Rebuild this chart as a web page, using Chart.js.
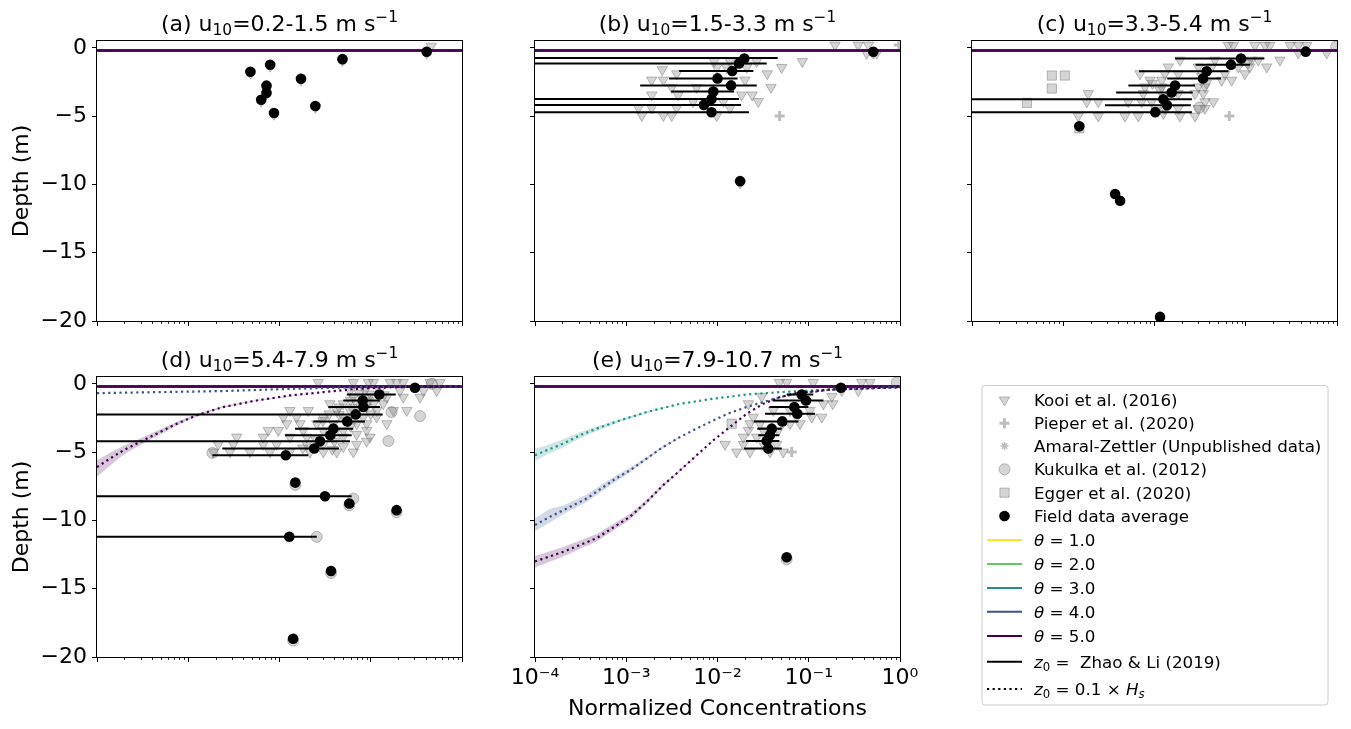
<!DOCTYPE html>
<html>
<head>
<meta charset="utf-8">
<script src="https://cdn.jsdelivr.net/npm/chart.js@4.4.1/dist/chart.umd.min.js"></script>
<style>
  html, body { margin: 0; padding: 0; background: #fff; }
  #fig { position: relative; width: 1351px; height: 729px; overflow: hidden; }
  #fig canvas { position: absolute; }
</style>
</head>
<body>
<div id="fig"></div>
<script>
// ---------------- values ----------------
const xTickValues = [1e-4, 1e-3, 1e-2, 1e-1, 1];
const xTickLabels = ['10⁻⁴', '10⁻³', '10⁻²', '10⁻¹', '10⁰'];
const yTickValues = [0, -5, -10, -15, -20];
const yTickLabels = ['0', '−5', '−10', '−15', '−20'];
const panelLetters = ['a', 'b', 'c', 'd', 'e'];
const windRanges = ['0.2-1.5', '1.5-3.3', '3.3-5.4', '5.4-7.9', '7.9-10.7'];
const thetaValues = ['1.0', '2.0', '3.0', '4.0', '5.0'];
const thetaColors = ['#fde725', '#5ec962', '#21918c', '#3b528b', '#440154'];
const thetaBands = ['rgba(253,231,37,0.22)', 'rgba(94,201,98,0.22)', 'rgba(33,145,140,0.22)', 'rgba(59,82,139,0.22)', 'rgba(68,1,84,0.22)'];

// z0 = Zhao & Li (2019): every theta collapses onto the surface
const surfaceProfile = [[1e-4, -0.2], [1, -0.2]];

// (a)  [concentration, depth]
const fieldA = [[0.0048, -1.75], [0.0079, -1.24], [0.0072, -2.77], [0.0072, -3.3], [0.0063, -3.8],
  [0.0087, -4.77], [0.0172, -2.26], [0.0247, -4.26], [0.049, -0.83], [0.41, -0.29]];
const errA = [];
const kooiA = [[0.0048, -1.85], [0.0079, -1.34], [0.0072, -2.87], [0.0072, -3.4], [0.0063, -3.9],
  [0.0087, -4.87], [0.0172, -2.36], [0.0247, -4.36], [0.049, -0.93], [0.41, -0.39], [0.46, 0.12]];

// (b)
const fieldB = [[0.0197, -0.78], [0.0172, -1.14], [0.0145, -1.7], [0.0100, -2.24], [0.0141, -2.75],
  [0.0090, -3.2], [0.0086, -3.74], [0.0071, -4.18], [0.0086, -4.72], [0.51, -0.29], [0.0177, -9.76]];
// [depth, low, high]
const errB = [[-0.74, 1e-6, 0.0457], [-1.14, 1e-6, 0.0346], [-1.7, 0.0038, 0.0247], [-2.24, 0.00294, 0.0166],
  [-2.75, 0.00142, 0.0269], [-3.2, 0.0031, 0.0152], [-3.74, 1e-6, 0.0172], [-4.18, 1e-6, 0.0181], [-4.72, 1e-6, 0.0221]];
const kooiB = [[0.0092, -1.0], [0.0137, -1.0], [0.0269, -1.0], [0.085, -1.0],
  [0.0098, -1.44], [0.0126, -1.44], [0.0209, -1.44], [0.0505, -1.44], [0.00248, -1.6],
  [0.00357, -1.9], [0.0351, -1.9], [0.0019, -2.36], [0.00255, -2.36], [0.02, -2.36],
  [0.00315, -2.9], [0.0059, -2.9], [0.0386, -2.9], [0.0019, -3.45], [0.0037, -3.45], [0.0184, -3.45], [0.024, -3.45],
  [0.0054, -3.93], [0.0116, -3.93], [0.028, -3.93], [0.00136, -4.4], [0.0019, -4.4], [0.00357, -4.4], [0.0137, -4.4],
  [0.00148, -4.96], [0.00255, -4.96], [0.00315, -4.96], [0.0098, -4.96],
  [0.194, 0.2], [0.349, 0.2], [0.45, 0.2], [0.43, -0.4], [0.556, -0.4], [0.0177, -9.9], [0.51, -0.4]];
const pieperB = [[0.048, -5.0], [0.97, 0.2]];

// (c)
const fieldC = [[0.0887, -0.79], [0.0689, -1.23], [0.0373, -1.72], [0.034, -2.25], [0.0168, -2.76],
  [0.0154, -3.27], [0.0125, -3.76], [0.0137, -4.2], [0.0102, -4.71], [0.454, -0.28], [0.0015, -5.75],
  [0.0037, -10.7], [0.0042, -11.2], [0.0115, -19.7]];
const errC = [[-0.79, 0.0168, 0.16], [-1.23, 0.0282, 0.111], [-1.72, 0.00676, 0.0646], [-2.25, 0.0138, 0.0536],
  [-2.76, 0.00517, 0.0278], [-3.27, 0.0038, 0.0262], [-3.76, 1e-6, 0.0257], [-4.2, 0.00287, 0.025], [-4.71, 1e-6, 0.0257]];
const kooiC = [[0.0644, 0.18], [0.0731, 0.18], [0.126, 0.18], [0.163, 0.18], [0.184, 0.18], [0.306, 0.18], [0.377, 0.18], [0.466, 0.18],
  [0.771, -0.38], [0.377, -0.38],
  [0.019, -0.9], [0.046, -0.9], [0.116, -0.9], [0.137, -0.9], [0.237, -0.9],
  [0.01416, -1.4], [0.0302, -1.4], [0.0424, -1.4], [0.0828, -1.4], [0.111, -1.4], [0.17, -1.4],
  [0.00693, -1.9], [0.013, -1.9], [0.0182, -1.9], [0.0593, -1.9], [0.098, -1.9],
  [0.00893, -2.37], [0.012, -2.37], [0.0545, -2.37], [0.0701, -2.37],
  [0.00787, -2.86], [0.012, -2.86], [0.0302, -2.86], [0.0357, -2.86],
  [0.00188, -3.35], [0.00754, -3.35], [0.0182, -3.35], [0.0278, -3.35], [0.0343, -3.35],
  [0.00181, -3.95], [0.00242, -3.95], [0.00516, -3.95], [0.00724, -3.95], [0.00931, -3.95], [0.0357, -3.95], [0.0441, -3.95],
  [0.013, -4.44], [0.0182, -4.44], [0.0302, -4.44], [0.0357, -4.44],
  [0.00146, -5.0], [0.00242, -5.0], [0.00475, -5.0], [0.00664, -5.0], [0.019, -5.0], [0.0278, -5.0],
  [0.0095, -2.6], [0.0115, -3.1], [0.0105, -4.6], [0.0125, -4.8], [0.033, -2.1], [0.037, -2.6], [0.092, -0.95], [0.105, -1.15]];
const pieperC = [[0.066, -5.0]];
const kukulkaC = [[0.031, -4.37], [0.98, 0.1]];
const eggerC = [[7.5e-4, -2.03], [1.04e-3, -2.03], [7.5e-4, -2.98], [4.0e-4, -4.03], [0.0015, -5.9]];

// (d)
const fieldD = [[0.305, -0.29], [0.124, -0.78], [0.0815, -1.22], [0.0828, -1.7], [0.0684, -2.24], [0.0553, -2.75],
  [0.0389, -3.28], [0.036, -3.77], [0.0278, -4.21], [0.024, -4.74], [0.0117, -5.23], [0.0149, -7.23],
  [0.0315, -8.23], [0.0582, -8.76], [0.192, -9.25], [0.0128, -11.2], [0.0367, -13.7], [0.0141, -18.66]];
const errD = [[-0.78, 0.0545, 0.188], [-1.22, 0.05, 0.126], [-1.7, 0.0343, 0.126], [-2.24, 1e-6, 0.135],
  [-2.75, 0.0235, 0.0865], [-3.28, 0.0148, 0.0644], [-3.77, 0.0115, 0.0618], [-4.21, 1e-6, 0.0593],
  [-4.74, 0.00236, 0.0449], [-5.23, 0.00184, 0.0207], [-8.23, 1e-6, 0.0618], [-11.2, 1e-6, 0.0256]];
const kooiD = [[0.0266, 0.1], [0.0644, 0.1], [0.094, 0.1], [0.107, 0.1], [0.163, 0.1], [0.192, 0.1], [0.227, 0.1], [0.446, 0.1], [0.574, 0.1],
  [0.0593, -0.5], [0.0865, -0.5], [0.126, -0.5], [0.209, -0.5], [0.377, -0.5], [0.528, -0.5],
  [0.0644, -0.98], [0.0903, -0.98], [0.15, -0.98], [0.227, -0.98], [0.347, -0.98],
  [0.0357, -1.46], [0.05, -1.46], [0.0701, -1.46], [0.107, -1.46], [0.137, -1.46],
  [0.013, -1.95], [0.0207, -1.95], [0.0424, -1.95], [0.0593, -1.95], [0.116, -1.95], [0.177, -1.95], [0.248, -1.95],
  [0.011, -2.44], [0.0154, -2.44], [0.0302, -2.44], [0.05, -2.44], [0.0828, -2.44], [0.116, -2.44],
  [0.012, -2.92], [0.0168, -2.92], [0.0256, -2.92], [0.0389, -2.92], [0.0701, -2.92], [0.0903, -2.92], [0.15, -2.92],
  [0.00754, -3.41], [0.0097, -3.41], [0.0182, -3.41], [0.0302, -3.41], [0.05, -3.41], [0.0903, -3.41],
  [0.0034, -3.9], [0.00664, -3.9], [0.013, -3.9], [0.0199, -3.9], [0.05, -3.9], [0.098, -3.9],
  [0.00213, -4.43], [0.00312, -4.43], [0.00664, -4.43], [0.00931, -4.43], [0.0199, -4.43], [0.0302, -4.43], [0.0701, -4.43],
  [0.00188, -4.99], [0.00287, -4.99], [0.00475, -4.99], [0.00787, -4.99], [0.013, -4.99], [0.0216, -4.99], [0.0302, -4.99], [0.0424, -4.99], [0.0644, -4.99],
  [0.075, -0.7], [0.1, -0.75], [0.14, -0.8], [0.06, -1.2], [0.095, -1.25], [0.045, -1.7], [0.062, -1.75], [0.09, -1.7],
  [0.035, -2.2], [0.045, -2.25], [0.1, -2.2], [0.03, -2.7], [0.055, -2.7], [0.06, -3.1], [0.04, -3.6], [0.07, -3.7],
  [0.025, -4.1], [0.04, -4.2], [0.05, -4.6], [0.018, -4.7], [0.038, -4.8], [0.09, -4.2]];
const kukulkaD = [[0.0644, -8.4], [0.156, -4.19], [0.347, -2.36], [0.169, -2.07], [0.00184, -5.06], [0.0256, -11.2],
  [0.466, 0.0], [0.0149, -7.4], [0.0582, -8.9], [0.192, -9.4], [0.0367, -13.85], [0.0141, -18.8]];
// model, z0 = 0.1 x Hs  [concentration, depth]
const profD4 = [[1e-4, -0.68], [4.5e-4, -0.61], [2.4e-3, -0.53], [0.013, -0.37], [0.07, -0.25], [1, -0.17]];
const profD5 = [[1e-4, -6.09], [1.39e-4, -5.47], [1.94e-4, -4.87], [2.96e-4, -4.26], [4.5e-4, -3.65], [7.5e-4, -2.92],
  [1.23e-3, -2.31], [2.4e-3, -1.7], [5.6e-3, -1.22], [0.013, -0.85], [0.03, -0.61], [0.07, -0.37], [0.163, -0.25], [1, -0.17]];
// [concentration, upper depth, lower depth]
const bandD5 = [[1e-4, -5.6, -6.8], [1.39e-4, -5.05, -6.0], [1.94e-4, -4.55, -5.2], [2.96e-4, -4.0, -4.5],
  [4.5e-4, -3.45, -3.85], [7.5e-4, -2.8, -3.05], [1.23e-3, -2.22, -2.4], [2.4e-3, -1.64, -1.76], [5.6e-3, -1.19, -1.25], [0.03, -0.6, -0.62]];

// (e)
const fieldE = [[0.225, -0.29], [0.0837, -0.78], [0.0933, -1.22], [0.0695, -1.7], [0.075, -2.19], [0.0513, -2.75],
  [0.0393, -3.28], [0.0376, -3.77], [0.0346, -4.18], [0.036, -4.74], [0.0573, -12.7]];
const errE = [[-0.78, 0.0573, 0.112], [-1.22, 0.0402, 0.145], [-1.7, 0.037, 0.099], [-2.19, 0.0332, 0.117],
  [-2.75, 0.0251, 0.077], [-3.28, 0.0273, 0.0506], [-3.77, 0.028, 0.0476], [-4.18, 0.0205, 0.0476], [-4.74, 0.0195, 0.0506]];
const kooiE = [[0.0476, 0.1], [0.0573, 0.1], [0.112, 0.1], [0.38, 0.1], [0.469, 0.1], [0.23, -0.5], [0.349, -0.5],
  [0.0305, -0.93], [0.179, -0.93], [0.0218, -1.46], [0.145, -1.46], [0.183, -1.46],
  [0.041, -1.95], [0.0624, -1.95], [0.103, -1.95], [0.0247, -2.44], [0.0738, -2.44], [0.108, -2.44], [0.139, -2.44],
  [0.0227, -2.92], [0.0292, -2.92], [0.0624, -2.92], [0.0802, -2.92], [0.0218, -3.41], [0.0318, -3.41], [0.0464, -3.41],
  [0.0192, -3.9], [0.0269, -3.9], [0.0121, -4.43], [0.0192, -4.43], [0.0318, -4.43], [0.0446, -4.43],
  [0.0162, -4.99], [0.0227, -4.99], [0.0376, -4.99], [0.0526, -4.99]];
const eggerE = [[0.0143, -2.92]];
const pieperE = [[0.065, -4.99]];
const kukulkaE = [[0.92, 0.1], [0.0573, -12.85]];
const profE3 = [[1e-4, -5.23], [1.34e-4, -4.87], [2.04e-4, -4.38], [3.1e-4, -3.77], [4.74e-4, -3.28], [8.55e-4, -2.68],
  [1.67e-3, -2.07], [3.9e-3, -1.46], [9.0e-3, -1.09], [0.0209, -0.78], [0.048, -0.61], [0.17, -0.42], [1, -0.24]];
const profE4 = [[1e-4, -10.34], [1.46e-4, -9.73], [2.04e-4, -9.25], [3.68e-4, -8.4], [7.2e-4, -7.06], [1.1e-3, -6.33],
  [1.67e-3, -5.47], [2.54e-3, -4.62], [3.9e-3, -3.89], [5.9e-3, -3.28], [9.0e-3, -2.68], [0.0137, -2.12],
  [0.0209, -1.7], [0.0318, -1.34], [0.048, -0.98], [0.073, -0.73], [0.17, -0.44], [1, -0.24]];
const profE5 = [[1e-4, -13.0], [2.04e-4, -12.3], [4.74e-4, -11.3], [1.1e-3, -9.73], [1.67e-3, -8.64], [2.54e-3, -7.42],
  [3.9e-3, -6.33], [5.9e-3, -5.23], [9.0e-3, -4.14], [0.0137, -3.16], [0.0209, -2.19], [0.0318, -1.46],
  [0.048, -0.98], [0.073, -0.68], [0.17, -0.42], [1, -0.24]];
const bandE3 = [[1e-4, -4.75, -5.65], [1.34e-4, -4.5, -5.2], [2.04e-4, -4.05, -4.65], [3.1e-4, -3.55, -4.0],
  [4.74e-4, -3.12, -3.45], [8.55e-4, -2.58, -2.78], [1.67e-3, -2.01, -2.13], [3.9e-3, -1.44, -1.48]];
const bandE4 = [[1e-4, -9.85, -10.8], [1.46e-4, -9.15, -10.15], [2.04e-4, -8.9, -9.55], [3.68e-4, -8.1, -8.65],
  [7.2e-4, -6.82, -7.28], [1.1e-3, -6.15, -6.48], [1.67e-3, -5.35, -5.57], [2.54e-3, -4.55, -4.69], [3.9e-3, -3.86, -3.92]];
const bandE5 = [[1e-4, -12.6, -13.45], [2.04e-4, -11.95, -12.65], [4.74e-4, -11.0, -11.55], [1.1e-3, -9.52, -9.93],
  [1.67e-3, -8.48, -8.8], [2.54e-3, -7.31, -7.53], [3.9e-3, -6.27, -6.39], [5.9e-3, -5.2, -5.26]];

// ---------------- styles ----------------
Chart.defaults.font.family = '"DejaVu Sans", sans-serif';
Chart.defaults.color = '#000';

const GRAY_FILL = 'rgba(128,128,128,0.33)';
const GRAY_EDGE = 'rgba(110,110,110,0.45)';
const markerStyles = {
  kooi:    { pointStyle: 'triangle', rotation: 180, radius: 6, fill: GRAY_FILL, stroke: GRAY_EDGE, borderWidth: 1 },
  pieper:  { pointStyle: 'cross', rotation: 0, radius: 5, fill: GRAY_FILL, stroke: GRAY_EDGE, borderWidth: 3 },
  amaral:  { pointStyle: 'star', rotation: 0, radius: 4, fill: GRAY_FILL, stroke: GRAY_EDGE, borderWidth: 1.5 },
  kukulka: { pointStyle: 'circle', rotation: 0, radius: 5.5, fill: GRAY_FILL, stroke: GRAY_EDGE, borderWidth: 1 },
  egger:   { pointStyle: 'rect', rotation: 0, radius: 6.5, fill: GRAY_FILL, stroke: GRAY_EDGE, borderWidth: 1 },
  field:   { pointStyle: 'circle', rotation: 0, radius: 5.3, fill: '#000', stroke: '#000', borderWidth: 0 }
};
const DOTTED = [2.2, 3.4];

const AX_W = 365, AX_H = 280;
const PAD_L = 97, PAD_T = 41, PAD_R = 26, PAD_B = 72;
const panelPos = [[97, 41], [535, 41], [972, 41], [97, 377], [535, 377]];

const panels = [
  { field: fieldA, err: errA, kooi: kooiA, pieper: [], amaral: [], kukulka: [], egger: [], dotted: [], bands: [] },
  { field: fieldB, err: errB, kooi: kooiB, pieper: pieperB, amaral: [], kukulka: [], egger: [], dotted: [], bands: [] },
  { field: fieldC, err: errC, kooi: kooiC, pieper: pieperC, amaral: [], kukulka: kukulkaC, egger: eggerC, dotted: [], bands: [] },
  { field: fieldD, err: errD, kooi: kooiD, pieper: [], amaral: [], kukulka: kukulkaD, egger: [],
    dotted: [[3, profD4], [4, profD5]], bands: [[4, bandD5]] },
  { field: fieldE, err: errE, kooi: kooiE, pieper: pieperE, amaral: [], kukulka: kukulkaE, egger: eggerE,
    dotted: [[2, profE3], [3, profE4], [4, profE5]], bands: [[2, bandE3], [3, bandE4], [4, bandE5]] }
];

// ---------------- helpers ----------------
const toPts = arr => arr.map(p => ({ x: p[0], y: p[1] }));

function markerSet(arr, st, order) {
  return {
    data: toPts(arr), showLine: false, order,
    pointStyle: st.pointStyle, pointRotation: st.rotation, pointRadius: st.radius,
    pointBackgroundColor: st.fill, pointBorderColor: st.stroke, pointBorderWidth: st.borderWidth
  };
}

function lineSet(arr, color, width, dash, order) {
  return { data: toPts(arr), showLine: true, borderColor: color, borderWidth: width, borderDash: dash,
           pointRadius: 0, fill: false, order };
}

// text with italic / sub / superscript runs: [text, kind]
function richText(ctx, parts, x, y, size, align) {
  const fontFor = k => (k.includes('i') ? 'italic ' : '') +
    ((k.includes('sub') || k.includes('sup')) ? size * 0.7 : size) + 'px "DejaVu Sans"';
  let w = 0;
  for (const [t, k] of parts) { ctx.font = fontFor(k); w += ctx.measureText(t).width; }
  let cx = align === 'center' ? x - w / 2 : x;
  ctx.textAlign = 'left';
  for (const [t, k] of parts) {
    ctx.font = fontFor(k);
    const dy = k.includes('sub') ? size * 0.2 : k.includes('sup') ? -size * 0.42 : 0;
    ctx.fillText(t, cx, y + dy);
    cx += ctx.measureText(t).width;
  }
}

// frame, minor ticks, titles and axis labels
const panelDeco = {
  id: 'panelDeco',
  afterDraw(chart, args, opts) {
    const { ctx, chartArea: a } = chart;
    const xs = chart.scales.x;
    ctx.save();
    ctx.strokeStyle = '#000';
    ctx.lineWidth = 1;
    ctx.strokeRect(a.left - 0.5, a.top - 0.5, a.right - a.left + 1, a.bottom - a.top + 1);
    ctx.lineWidth = 0.8;
    ctx.beginPath();
    for (let e = -4; e < 0; e++) {
      for (let k = 2; k <= 9; k++) {
        const px = Math.round(xs.getPixelForValue(k * Math.pow(10, e))) + 0.5;
        ctx.moveTo(px, a.bottom);
        ctx.lineTo(px, a.bottom + 3);
      }
    }
    ctx.stroke();
    ctx.fillStyle = '#000';
    ctx.textBaseline = 'alphabetic';
    richText(ctx, opts.title, (a.left + a.right) / 2, a.top - 10, 22, 'center');
    if (opts.yLabel) {
      ctx.save();
      ctx.translate(a.left - 75, (a.top + a.bottom) / 2);
      ctx.rotate(-Math.PI / 2);
      ctx.textAlign = 'center';
      ctx.textBaseline = 'middle';
      ctx.font = '22px "DejaVu Sans"';
      ctx.fillText(opts.yLabel, 0, 0);
      ctx.restore();
    }
    if (opts.xLabel) {
      ctx.textAlign = 'center';
      ctx.textBaseline = 'middle';
      ctx.font = '22px "DejaVu Sans"';
      ctx.fillText(opts.xLabel, (a.left + a.right) / 2, a.bottom + 52);
    }
    ctx.restore();
  }
};

const fig = document.getElementById('fig');

panels.forEach((p, i) => {
  const [ax, ay] = panelPos[i];
  const cv = document.createElement('canvas');
  const w = PAD_L + AX_W + PAD_R, h = PAD_T + AX_H + PAD_B;
  cv.width = w; cv.height = h;
  cv.style.left = (ax - PAD_L) + 'px';
  cv.style.top = (ay - PAD_T) + 'px';
  cv.style.width = w + 'px';
  cv.style.height = h + 'px';
  fig.appendChild(cv);

  const showY = (i === 0 || i === 3);
  const showX = (i === 4);

  const datasets = [];
  datasets.push(markerSet(p.field, markerStyles.field, 0));
  datasets.push({
    data: p.err.flatMap(e => [{ x: e[1], y: e[0] }, { x: e[2], y: e[0] }, { x: null, y: null }]),
    showLine: true, spanGaps: false, borderColor: '#000', borderWidth: 2, pointRadius: 0, order: 1
  });
  p.dotted.forEach(([ti, prof]) => datasets.push(lineSet(prof, thetaColors[ti], 2.2, DOTTED, 2 + (4 - ti))));
  thetaColors.forEach((c, ti) => datasets.push(lineSet(surfaceProfile, c, 2.6, [], 8 + (4 - ti))));
  datasets.push(markerSet(p.egger, markerStyles.egger, 20));
  datasets.push(markerSet(p.kukulka, markerStyles.kukulka, 21));
  datasets.push(markerSet(p.amaral, markerStyles.amaral, 22));
  datasets.push(markerSet(p.pieper, markerStyles.pieper, 23));
  datasets.push(markerSet(p.kooi, markerStyles.kooi, 24));
  p.bands.forEach(([ti, band]) => {
    datasets.push({ data: band.map(b => ({ x: b[0], y: b[1] })), showLine: true, borderWidth: 0,
                    pointRadius: 0, fill: '+1', backgroundColor: thetaBands[ti], order: 30 });
    datasets.push({ data: band.map(b => ({ x: b[0], y: b[2] })), showLine: true, borderWidth: 0,
                    pointRadius: 0, fill: false, order: 31 });
  });

  new Chart(cv, {
    type: 'scatter',
    data: { datasets },
    options: {
      responsive: false,
      animation: false,
      events: [],
      layout: { padding: { left: 0, top: PAD_T, right: PAD_R, bottom: 0 } },
      plugins: {
        legend: { display: false },
        tooltip: { enabled: false },
        panelDeco: {
          title: [['(' + panelLetters[i] + ') u', ''], ['10', 'sub'], ['=' + windRanges[i] + ' m s', ''], ['−1', 'sup']],
          yLabel: showY ? 'Depth (m)' : null,
          xLabel: showX ? 'Normalized Concentrations' : null
        }
      },
      scales: {
        x: {
          type: 'logarithmic', min: 1e-4, max: 1,
          afterBuildTicks: s => { s.ticks = xTickValues.map(v => ({ value: v })); },
          afterFit: s => { s.height = PAD_B; },
          border: { display: false },
          grid: { drawOnChartArea: false, drawTicks: true, tickLength: 5, tickWidth: 1, tickColor: '#000' },
          ticks: {
            display: showX, autoSkip: false, maxRotation: 0, padding: 3,
            font: { size: 22 }, color: '#000',
            callback: v => { const k = xTickValues.indexOf(v); return k >= 0 ? xTickLabels[k] : ''; }
          }
        },
        y: {
          type: 'linear', min: -20, max: 0.5,
          afterBuildTicks: s => { s.ticks = yTickValues.map(v => ({ value: v })); },
          afterFit: s => { s.width = PAD_L; },
          border: { display: false },
          grid: { drawOnChartArea: false, drawTicks: true, tickLength: 5, tickWidth: 1, tickColor: '#000' },
          ticks: {
            display: showY, padding: 5, font: { size: 22 }, color: '#000',
            callback: v => { const k = yTickValues.indexOf(v); return k >= 0 ? yTickLabels[k] : ''; }
          }
        }
      }
    },
    plugins: [panelDeco]
  });
});

// ---------------- legend (sixth cell) ----------------
const legendEntries = [
  { marker: 'kooi', parts: [['Kooi et al. (2016)', '']] },
  { marker: 'pieper', parts: [['Pieper et al. (2020)', '']] },
  { marker: 'amaral', parts: [['Amaral-Zettler (Unpublished data)', '']] },
  { marker: 'kukulka', parts: [['Kukulka et al. (2012)', '']] },
  { marker: 'egger', parts: [['Egger et al. (2020)', '']] },
  { marker: 'field', parts: [['Field data average', '']] },
  ...thetaValues.map((t, k) => ({ line: thetaColors[k], dash: [], parts: [['θ', 'i'], [' = ' + t, '']] })),
  { line: '#000', dash: [], parts: [['z', 'i'], ['0', 'sub'], [' =  Zhao & Li (2019)', '']] },
  { line: '#000', dash: DOTTED, parts: [['z', 'i'], ['0', 'sub'], [' = 0.1 × ', ''], ['H', 'i'], ['s', 'isub']] }
];
const legendRowY = [20, 43.3, 66, 89.3, 112.7, 136, 160, 184, 208, 231.7, 256, 281.7, 309];

(function drawLegend() {
  const cv = document.createElement('canvas');
  cv.width = 360; cv.height = 330;
  cv.style.left = '975px'; cv.style.top = '380px';
  cv.style.width = '360px'; cv.style.height = '330px';
  fig.appendChild(cv);
  const ctx = cv.getContext('2d');

  // frame
  ctx.save();
  ctx.strokeStyle = '#cccccc';
  ctx.lineWidth = 1;
  ctx.beginPath();
  if (ctx.roundRect) ctx.roundRect(7, 5.5, 346, 319.5, 3); else ctx.rect(7, 5.5, 346, 319.5);
  ctx.fillStyle = 'rgba(255,255,255,0.8)';
  ctx.fill();
  ctx.stroke();
  ctx.restore();

  legendEntries.forEach((e, k) => {
    const y = legendRowY[k];
    ctx.save();
    if (e.marker) {
      const st = markerStyles[e.marker];
      ctx.fillStyle = st.fill;
      ctx.strokeStyle = st.stroke;
      ctx.lineWidth = st.borderWidth;
      Chart.helpers.drawPoint(ctx, { pointStyle: st.pointStyle, rotation: st.rotation, radius: st.radius, borderWidth: st.borderWidth }, 29.5, y);
    } else {
      ctx.strokeStyle = e.line;
      ctx.lineWidth = 2;
      ctx.setLineDash(e.dash);
      ctx.beginPath();
      ctx.moveTo(12, y);
      ctx.lineTo(47, y);
      ctx.stroke();
    }
    ctx.restore();
    ctx.fillStyle = '#000';
    ctx.textBaseline = 'alphabetic';
    richText(ctx, e.parts, 59, y + 6, 16.7, 'left');
  });
})();
</script>
</body>
</html>
